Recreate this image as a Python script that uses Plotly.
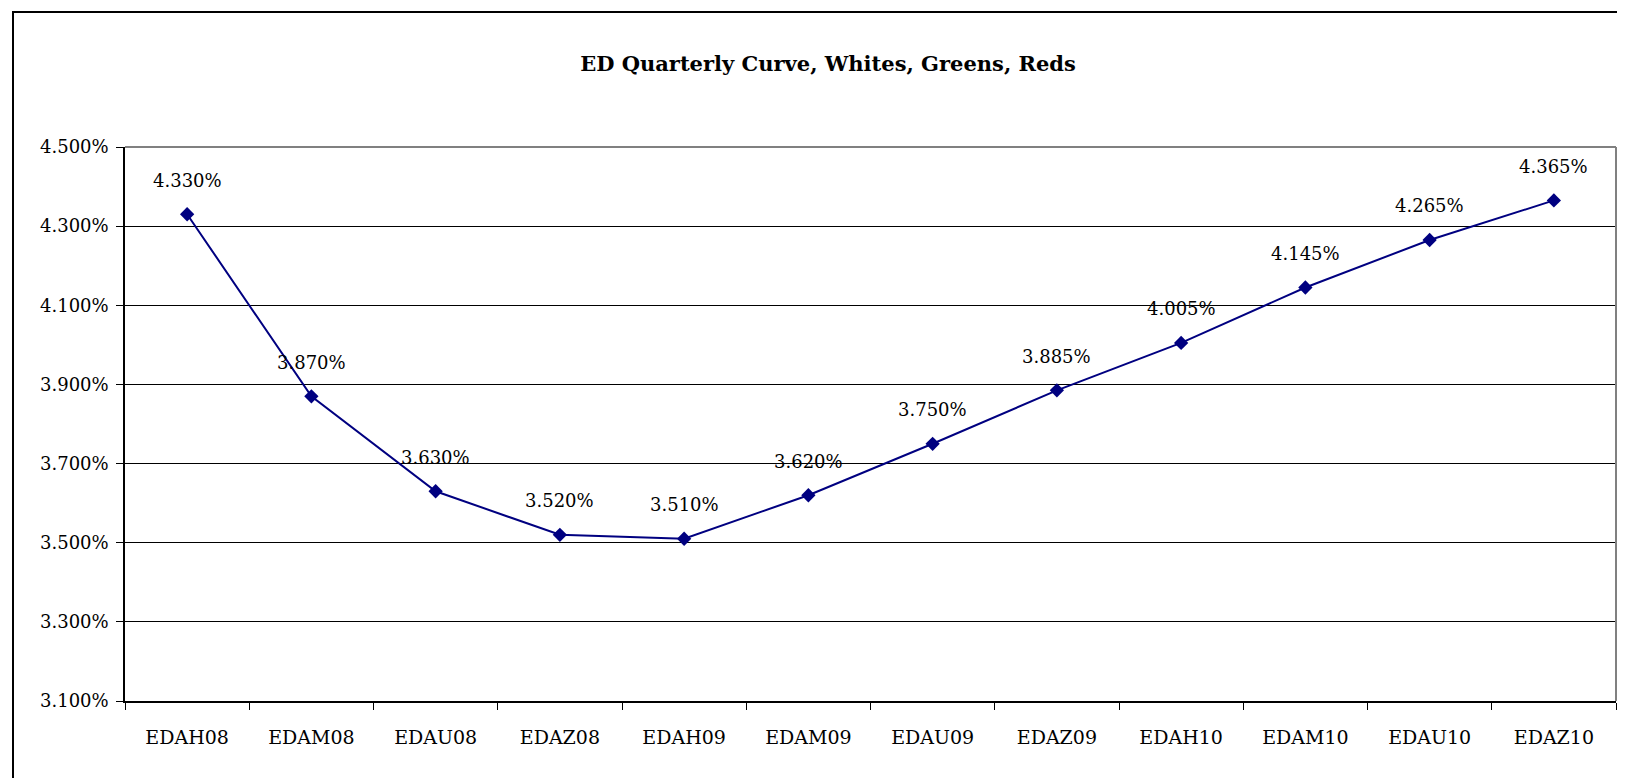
import plotly.graph_objects as go

categories = ["EDAH08", "EDAM08", "EDAU08", "EDAZ08", "EDAH09", "EDAM09",
              "EDAU09", "EDAZ09", "EDAH10", "EDAM10", "EDAU10", "EDAZ10"]
rates = [4.330, 3.870, 3.630, 3.520, 3.510, 3.620,
         3.750, 3.885, 4.005, 4.145, 4.265, 4.365]
y_ticks = [3.1, 3.3, 3.5, 3.7, 3.9, 4.1, 4.3, 4.5]

W, H = 1625, 778
L, R, T, B = 117, 17, 139, 85
FONT = "DejaVu Serif"
NAVY = "#000080"

fig = go.Figure()
fig.add_trace(go.Scatter(
    x=categories, y=rates, mode="lines+markers",
    line=dict(color=NAVY, width=2),
    marker=dict(symbol="diamond", size=11, color=NAVY),
    cliponaxis=False, hoverinfo="skip",
))

for c, v in zip(categories, rates):
    fig.add_annotation(x=c, y=v, text=f"{v:.3f}%", showarrow=False,
                       yshift=34, font=dict(family=FONT, size=18, color="black"))

pw, ph = W - L - R, H - T - B
fig.add_shape(type="rect", xref="paper", yref="paper",
              x0=(5 - L) / pw, x1=(W + 20 - L) / pw,
              y0=-(B + 20) / ph, y1=1 + (T - 4) / ph,
              line=dict(color="black", width=2), fillcolor="rgba(0,0,0,0)",
              layer="below")

fig.update_layout(
    width=W, height=H,
    margin=dict(l=L, r=R, t=T, b=B),
    paper_bgcolor="white", plot_bgcolor="white",
    showlegend=False,
    title=dict(text="<b>ED Quarterly Curve, Whites, Greens, Reds</b>",
               x=820 / W, xanchor="center", y=1 - 56 / H, yanchor="middle",
               font=dict(family=FONT, size=21, color="black")),
    xaxis=dict(
        type="category", range=[-0.5, len(categories) - 0.5],
        showgrid=False, showline=True, linecolor="black", linewidth=1.5,
        mirror=False, ticks="outside", ticklen=7, tickcolor="black",
        tickson="boundaries", tickfont=dict(family=FONT, size=19, color="black"),
        ticklabelstandoff=18,
    ),
    yaxis=dict(
        range=[3.1, 4.5], tickvals=y_ticks,
        ticktext=[f"{v:.3f}%" for v in y_ticks],
        showgrid=True, gridcolor="black", gridwidth=1,
        showline=True, linecolor="black", linewidth=1.5,
        ticks="outside", ticklen=7, tickcolor="black",
        tickfont=dict(family=FONT, size=18, color="black"),
        ticklabelstandoff=4, zeroline=False,
    ),
)
# gray plot-area border (top and right)
fig.add_shape(type="line", xref="paper", yref="paper", x0=0, x1=1, y0=1, y1=1,
              line=dict(color="#808080", width=2))
fig.add_shape(type="line", xref="paper", yref="paper", x0=1, x1=1, y0=0, y1=1,
              line=dict(color="#808080", width=2))

fig.write_html("out.html")
